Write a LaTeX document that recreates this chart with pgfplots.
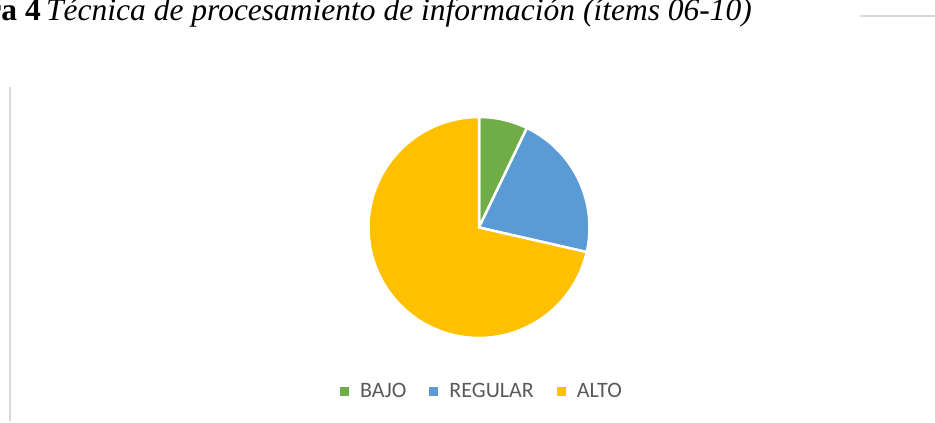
\documentclass[border=0pt]{standalone}
\usepackage{fontspec}
\setmainfont{Liberation Serif}
\newfontfamily\carlito{Carlito}
\usepackage{pgfplots}
\usepackage{pgfplotstable}
\pgfplotsset{compat=1.18}
\definecolor{pgreen}{HTML}{70AD47}
\definecolor{pblue}{HTML}{5B9BD5}
\definecolor{pyellow}{HTML}{FFC000}
\definecolor{legtext}{HTML}{595959}
\definecolor{frameline}{HTML}{D9D9D9}

\pgfplotstableread{
label value
BAJO 5
REGULAR 15
ALTO 50
}\piedata

\begin{document}%
\begin{tikzpicture}
\pgfplotstablegetelem{0}{value}\of\piedata \edef\va{\pgfplotsretval}
\pgfplotstablegetelem{1}{value}\of\piedata \edef\vb{\pgfplotsretval}
\pgfplotstablegetelem{2}{value}\of\piedata \edef\vc{\pgfplotsretval}
\pgfmathsetmacro{\tot}{\va+\vb+\vc}
\pgfmathsetmacro{\aA}{360*\va/\tot}
\pgfmathsetmacro{\aB}{360*(\va+\vb)/\tot}
\def\cx{479}
\def\cy{227.5}
\def\rr{110.5}
\begin{axis}[
  at={(0,0)}, anchor=south west,
  scale only axis, width=935pt, height=423pt,
  xmin=0, xmax=935, ymin=0, ymax=423, y dir=reverse,
  enlargelimits=false,
  hide axis, clip=false,
  legend image code/.code={\fill[#1, draw=none] (0pt,-4.5pt) rectangle (9pt,4.5pt);},
  legend style={at={(axis cs:482,391.5)}, anchor=center, draw=none, fill=none,
    font=\carlito\fontsize{22}{24}\selectfont, text=legtext,
    /tikz/every odd column/.append style={column sep=9pt},
    /tikz/every even column/.append style={column sep=21pt},
    legend cell align=left},
  legend columns=-1,
]
\addplot[fill=pgreen, draw=white, line width=2.5pt, domain=0:\aA, samples=30, variable=\t]
  ({\cx+\rr*sin(\t)},{\cy-\rr*cos(\t)}) -- (axis cs:\cx,\cy) -- cycle;
\addlegendentry{BAJO}
\addplot[fill=pblue, draw=white, line width=2.5pt, domain=\aA:\aB, samples=40, variable=\t]
  ({\cx+\rr*sin(\t)},{\cy-\rr*cos(\t)}) -- (axis cs:\cx,\cy) -- cycle;
\addlegendentry{REGULAR}
\addplot[fill=pyellow, draw=white, line width=2.5pt, domain=\aB:360, samples=100, variable=\t]
  ({\cx+\rr*sin(\t)},{\cy-\rr*cos(\t)}) -- (axis cs:\cx,\cy) -- cycle;
\addlegendentry{ALTO}
\draw[frameline, line width=1.5pt] (axis cs:10,87) -- (axis cs:10,421);
\draw[frameline, line width=1.5pt] (axis cs:860,16) -- (axis cs:935,16);
\node[anchor=base east, inner sep=0pt, font=\fontsize{31.5}{34}\selectfont] at (axis cs:41,20)
  {\textbf{Figura 4}};
\node[anchor=base west, inner sep=0pt, font=\fontsize{31.5}{34}\selectfont] at (axis cs:46,20)
  {\textit{Técnica de procesamiento de información (ítems 06-10)}};
\end{axis}
\pgfresetboundingbox
\useasboundingbox (0,0) rectangle (935pt,423pt);
\end{tikzpicture}%
\end{document}
